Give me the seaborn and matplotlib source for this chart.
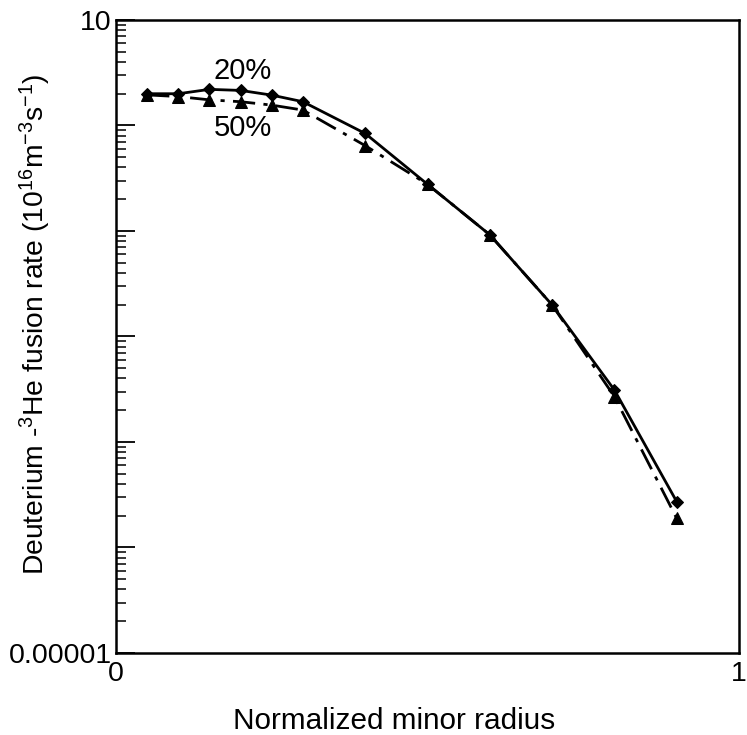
import numpy as np
import pandas as pd
import seaborn as sns
import matplotlib
matplotlib.use("Agg")
import matplotlib.pyplot as plt
from matplotlib.ticker import LogLocator, NullFormatter

# data
radius = [0.05, 0.1, 0.15, 0.2, 0.25, 0.3, 0.4, 0.5, 0.6, 0.7, 0.8, 0.9]
rate_20 = [2.0, 2.0, 2.2, 2.15, 1.94, 1.68, 0.84, 0.277, 0.092, 0.0199, 0.00311, 0.000272]
rate_50 = [1.95, 1.88, 1.75, 1.68, 1.56, 1.40, 0.644, 0.277, 0.092, 0.0199, 0.00269, 0.000189]
series_labels = ["20%", "50%"]
x_tick_labels = ["0", "1"]

sns.set_theme(style="white")
plt.rcParams['font.family'] = ['Liberation Sans', 'DejaVu Sans']
plt.rcParams['mathtext.fontset'] = 'custom'
plt.rcParams['mathtext.rm'] = 'Liberation Sans'
plt.rcParams['mathtext.it'] = 'Liberation Sans'
plt.rcParams['text.color'] = 'black'
plt.rcParams['axes.labelcolor'] = 'black'
plt.rcParams['xtick.color'] = 'black'
plt.rcParams['ytick.color'] = 'black'

fig = plt.figure(figsize=(7.47, 7.35), dpi=100)
ax = fig.add_axes([0.1553, 0.1116, 0.834, 0.8612])

df20 = pd.DataFrame({"r": radius, "v": rate_20})
df50 = pd.DataFrame({"r": radius, "v": rate_50})

sns.lineplot(data=df20, x="r", y="v", ax=ax, color="black", lw=2.0,
             marker="D", markersize=6.5, markeredgecolor="black", linestyle="-")
sns.lineplot(data=df50, x="r", y="v", ax=ax, color="black", lw=2.0,
             marker="^", markersize=8, markeredgecolor="black", linestyle=(0, (8, 3, 1.5, 3)))

ax.set_yscale("log")
ax.set_xlim(0, 1)
ax.set_ylim(1e-5, 10)

ax.yaxis.set_minor_locator(LogLocator(base=10, subs=np.arange(2, 10), numticks=20))
ax.yaxis.set_minor_formatter(NullFormatter())
ax.set_yticks([10, 1, 0.1, 0.01, 0.001, 0.0001, 1e-5])
ax.set_yticklabels(["10", "", "", "", "", "", "0.00001"])
ax.tick_params(axis="y", which="major", direction="in", length=14, width=1.3, left=True,
               labelsize=20.5, pad=3, colors="black")
ax.tick_params(axis="y", which="minor", direction="in", length=7, width=1.1, left=True,
               colors="black")

ax.set_xticks([0, 1])
ax.set_xticklabels(x_tick_labels)
ax.tick_params(axis="x", which="major", direction="in", length=0, labelsize=20.5, pad=6,
               colors="black")

for s in ax.spines.values():
    s.set_color("black")
    s.set_linewidth(1.8)

ax.set_xlabel("Normalized minor radius", fontsize=21.4, color="black")
ax.xaxis.set_label_coords(0.446, -0.085)
ax.set_ylabel("Deuterium -$^{3}$He fusion rate (10$^{16}$m$^{-3}$s$^{-1}$)", fontsize=20.3,
              color="black")
ax.yaxis.set_label_coords(-0.101, 0.52)

ax.text(0.204, 3.3, series_labels[0], fontsize=21, ha="center", va="center", color="black")
ax.text(0.204, 0.95, series_labels[1], fontsize=21, ha="center", va="center", color="black")

fig.savefig("out.png", dpi=100)
